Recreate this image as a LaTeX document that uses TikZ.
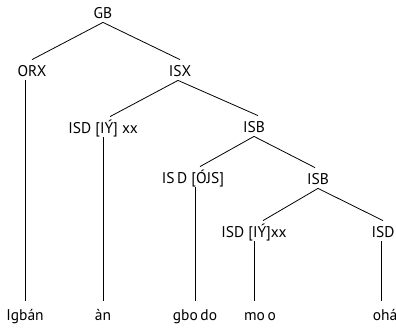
\documentclass[tikz,border=0pt]{standalone}
\usepackage{fontspec}
\setmainfont{PT Sans}

\begin{document}
\begin{tikzpicture}[x=1pt,y=-1pt,line width=0.8pt]
        \tikzstyle{cat}=[inner xsep=2pt,inner ysep=3pt,text height=13pt,text depth=1pt,anchor=base,font=\fontsize{15.5}{18}\selectfont]
        \tikzstyle{leaf}=[cat,inner ysep=6pt]
        \tikzstyle{every node}=[cat]
        \useasboundingbox (0,0) rectangle (396,327);
        % categories
        \node (gb) at (103,18) {GB};
        \node (orx) at (32,76) {ORX};
        \node (isx) at (180,76) {ISX};
        \node (isdA) at (103,133) {ISD [IÝ] xx};
        \node (isbA) at (254,132) {ISB};
        \node (isdB) at (193,183) {IS\,D [ÓJS]};
        \node (isbB) at (318,184) {ISB};
        \node (isdC) at (254,237) {ISD [IÝ]xx};
        \node (isdD) at (383,237) {ISD};
        % words
        \node[leaf] (igban) at (25,320) {Igbán};
        \node[leaf] (an) at (103,320) {àn};
        \node[leaf] (gbodo) at (195,320) {gbo\,do};
        \node[leaf] (moo) at (260,320) {mo\,o};
        \node[leaf] (oha) at (385,320) {ohá};
        % branches
        \draw (gb.south) -- (orx.north);
        \draw (gb.south) -- (isx.north);
        \draw ([xshift=-2pt]isx.south) -- ([xshift=7pt]isdA.north);
        \draw ([xshift=-2pt]isx.south) -- ([xshift=4pt]isbA.north);
        \draw (isbA.south) -- ([xshift=7pt]isdB.north);
        \draw (isbA.south) -- ([xshift=-3pt]isbB.north);
        \draw (isbB.south) -- ([xshift=9pt]isdC.north);
        \draw (isbB.south) -- (isdD.north);
        \draw (orx.south -| igban.north) -- (igban.north);
        \draw (isdA.south) -- (an.north);
        \draw (isdB.south -| gbodo.north) -- (gbodo.north);
        \draw (isdC.south) -- (isdC.south |- moo.north);
        \draw ([xshift=-2pt]isdD.south) -- ([xshift=-2pt]isdD.south |- oha.north);
\end{tikzpicture}
\end{document}
